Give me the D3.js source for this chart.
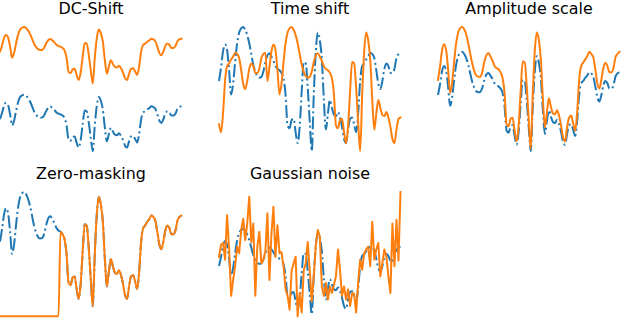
<!DOCTYPE html>
<html><head><meta charset="utf-8">
<script src="https://cdn.jsdelivr.net/npm/d3@7"></script>
<style>html,body{margin:0;padding:0;background:#fff;overflow:hidden;} svg{display:block;}</style>
</head><body>
<script>
// Panel titles
const titles = ["DC-Shift", "Time shift", "Amplitude scale", "Zero-masking", "Gaussian noise"];

// Original signal (blue dash-dot), one sample per step
const original = [
  0.60,0.70,0.82,0.87,0.83,0.68,0.50,0.58,0.74,0.88,
  0.96,0.99,1.00,0.98,0.94,0.88,0.80,0.72,0.67,0.635,
  0.625,0.63,0.67,0.74,0.79,0.805,0.78,0.75,0.71,0.69,
  0.68,0.66,0.62,0.50,0.27,0.25,0.31,0.32,0.22,0.14,
  0.26,0.52,0.74,0.73,0.55,0.30,0.08,0.50,0.82,0.96,
  0.90,0.76,0.46,0.24,0.36,0.46,0.40,0.35,0.34,0.37,
  0.33,0.26,0.17,0.14,0.24,0.32,0.33,0.28,0.22,0.36,
  0.60,0.71,0.73,0.76,0.78,0.81,0.80,0.77,0.68,0.58,
  0.54,0.60,0.69,0.73,0.71,0.66,0.66,0.69,0.77,0.80,
  0.81
];

// Augmented signals (orange)
const dcShifted = [
  1.70,1.80,1.92,1.97,1.93,1.78,1.60,1.68,1.84,1.98,
  2.06,2.09,2.10,2.08,2.04,1.98,1.90,1.82,1.77,1.735,
  1.725,1.73,1.77,1.84,1.89,1.905,1.88,1.85,1.81,1.79,
  1.78,1.76,1.72,1.60,1.37,1.35,1.41,1.42,1.32,1.24,
  1.36,1.62,1.84,1.83,1.65,1.40,1.18,1.60,1.92,2.06,
  2.00,1.86,1.56,1.34,1.46,1.56,1.50,1.45,1.44,1.47,
  1.43,1.36,1.27,1.24,1.34,1.42,1.43,1.38,1.32,1.46,
  1.70,1.81,1.83,1.86,1.88,1.91,1.90,1.87,1.78,1.68,
  1.64,1.70,1.79,1.83,1.81,1.76,1.76,1.79,1.87,1.90,
  1.91
];

const timeShifted = [
  0.28,0.22,0.36,0.60,0.71,0.73,0.76,0.78,0.81,0.80,
  0.77,0.68,0.58,0.54,0.60,0.69,0.73,0.71,0.66,0.66,
  0.69,0.77,0.80,0.81,0.60,0.70,0.82,0.87,0.83,0.68,
  0.50,0.58,0.74,0.88,0.96,0.99,1.00,0.98,0.94,0.88,
  0.80,0.72,0.67,0.635,0.625,0.63,0.67,0.74,0.79,0.805,
  0.78,0.75,0.71,0.69,0.68,0.66,0.62,0.50,0.27,0.25,
  0.31,0.32,0.22,0.14,0.26,0.52,0.74,0.73,0.55,0.30,
  0.08,0.50,0.82,0.96,0.90,0.76,0.46,0.24,0.36,0.46,
  0.40,0.35,0.34,0.37,0.33,0.26,0.17,0.14,0.24,0.32,
  0.33
];

const amplitudeScaled = [
  0.74,0.86,1.01,1.07,1.02,0.84,0.62,0.71,0.91,1.08,
  1.18,1.22,1.23,1.21,1.16,1.08,0.98,0.89,0.82,0.78,
  0.77,0.77,0.82,0.91,0.97,0.99,0.96,0.92,0.87,0.85,
  0.84,0.81,0.76,0.62,0.33,0.31,0.38,0.39,0.27,0.17,
  0.32,0.64,0.91,0.90,0.68,0.37,0.10,0.62,1.01,1.18,
  1.11,0.93,0.57,0.30,0.44,0.57,0.49,0.43,0.42,0.46,
  0.41,0.32,0.21,0.17,0.30,0.39,0.41,0.34,0.27,0.44,
  0.74,0.87,0.90,0.93,0.96,1.00,0.98,0.95,0.84,0.71,
  0.66,0.74,0.85,0.90,0.87,0.81,0.81,0.85,0.95,0.98,
  1.00
];

const zeroMasked = [
  0,0,0,0,0,0,0,0,0,0,
  0,0,0,0,0,0,0,0,0,0,
  0,0,0,0,0,0,0,0,0,0,
  0.68,0.66,0.62,0.50,0.27,0.25,0.31,0.32,0.22,0.14,
  0.26,0.52,0.74,0.73,0.55,0.30,0.08,0.50,0.82,0.96,
  0.90,0.76,0.46,0.24,0.36,0.46,0.40,0.35,0.34,0.37,
  0.33,0.26,0.17,0.14,0.24,0.32,0.33,0.28,0.22,0.36,
  0.60,0.71,0.73,0.76,0.78,0.81,0.80,0.77,0.68,0.58,
  0.54,0.60,0.69,0.73,0.71,0.66,0.66,0.69,0.77,0.80,
  0.81
];

const gaussianNoisy = [
  0.70,0.83,0.85,0.67,1.15,0.79,0.28,0.45,0.60,0.81,
  0.74,0.99,1.11,0.88,1.06,1.35,0.86,1.06,0.28,0.81,
  0.97,0.63,0.67,0.76,1.17,0.45,0.95,1.24,0.70,1.04,
  0.74,0.75,0.60,0.35,0.28,0.13,0.55,0.63,0.70,0.06,
  0.31,0.10,0.55,0.63,0.86,0.55,0.22,0.49,0.83,0.99,
  0.92,0.38,0.28,0.42,0.24,0.38,0.31,0.40,0.49,0.78,
  0.56,0.28,0.38,0.24,0.35,0.17,0.31,0.30,0.10,0.42,
  0.67,0.56,0.74,0.78,0.81,0.60,1.08,0.67,0.78,0.85,
  0.49,0.63,0.78,0.70,0.49,0.31,1.06,0.60,1.10,0.66,
  1.40
];

const augmented = [dcShifted, timeShifted, amplitudeScaled, zeroMasked, gaussianNoisy];
const smoothAug = [true, true, true, true, false];

// Layout
const W = 622, H = 318;
const colLeft = [0, 219, 438];
const plotW = 181.5;
const rowTop = [27, 192];
const plotH = 124.2;
const blue = "#1f77b4", orange = "#ff7f0e";

const svg = d3.select("body").append("svg").attr("width", W).attr("height", H);

augmented.forEach((aug, k) => {
  const col = k % 3, row = Math.floor(k / 3);
  const x = d3.scaleLinear().domain([0, original.length - 1]).range([colLeft[col], colLeft[col] + plotW]);
  const ext = d3.extent(original.concat(aug));
  const y = d3.scaleLinear().domain(ext).range([rowTop[row] + plotH, rowTop[row]]);
  const xa = d3.scaleLinear().domain([0, aug.length - 1]).range([colLeft[col], colLeft[col] + plotW]);

  const g = svg.append("g");
  g.append("path")
    .datum(original)
    .attr("fill", "none")
    .attr("stroke", blue)
    .attr("stroke-width", 2)
    .attr("stroke-dasharray", "12.7,3.2,2,3.2")
    .attr("stroke-linejoin", "round")
    .attr("d", d3.line().curve(d3.curveMonotoneX).x((d, i) => x(i)).y(d => y(d)));

  g.append("path")
    .datum(aug)
    .attr("fill", "none")
    .attr("stroke", orange)
    .attr("stroke-width", 2)
    .attr("stroke-linejoin", "round")
    .attr("stroke-linecap", "square")
    .attr("d", d3.line().curve(smoothAug[k] ? d3.curveMonotoneX : d3.curveLinear).x((d, i) => xa(i)).y(d => y(d)));

  g.append("text")
    .attr("x", colLeft[col] + 91)
    .attr("y", rowTop[row] - 12.7)
    .attr("text-anchor", "middle")
    .attr("font-family", "DejaVu Sans")
    .attr("font-size", "15.9px")
    .attr("fill", "#000")
    .text(titles[k]);
});
</script>
</body></html>
